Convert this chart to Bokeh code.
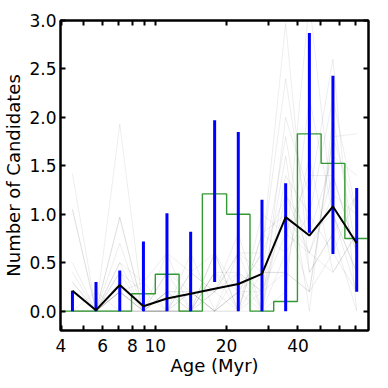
from bokeh.plotting import figure
from bokeh.models import Range1d, FixedTicker, LinearAxis, LogAxis
from bokeh.embed import file_html
from bokeh.resources import INLINE

# Bin centres and edges (Myr), log-spaced
centers = [4.47, 5.62, 7.08, 8.91, 11.2, 14.1, 17.8, 22.4, 28.2, 35.5, 44.7, 56.2, 70.8]
edges = [3.98, 5.01, 6.31, 7.94, 10.0, 12.6, 15.8, 20.0, 25.1, 31.6, 39.8, 50.1, 63.1, 79.4]

# Observed histogram (green step)
hist_vals = [0.0, 0.0, 0.0, 0.18, 0.38, 0.0, 1.21, 1.0, 0.0, 0.10, 1.83, 1.525, 0.75]

# Mean of realizations (black)
mean_vals = [0.21, 0.01, 0.27, 0.05, 0.13, 0.18, 0.23, 0.28, 0.385, 0.97, 0.78, 1.08, 0.70]

# Error bar ranges (blue)
err_lo = [0.0, 0.0, 0.0, 0.0, 0.0, 0.0, 0.30, 0.0, 0.0, 0.0, 0.81, 0.59, 0.20]
err_hi = [0.21, 0.30, 0.42, 0.72, 1.01, 0.82, 1.97, 1.85, 1.15, 1.32, 2.87, 2.43, 1.27]

# Individual realizations (faint grey)
realizations = [
    [1.42, 0, 0.2, 0, 0, 0.2, 0, 0.4, 0.2, 1.0, 0.6, 1.4, 0.6],
    [1.05, 0, 0.97, 0, 0.2, 0, 0.4, 0.2, 0.6, 2.97, 0.4, 0.8, 1.2],
    [0.2, 0, 1.93, 0, 0, 0.4, 0.2, 0, 0.8, 0.6, 3.2, 1.0, 0.4],
    [0, 0, 0.5, 0.3, 0.6, 0, 0.6, 0.2, 0, 2.0, 1.2, 2.6, 0],
    [0.5, 0, 0.2, 0, 0, 0.2, 0, 0.6, 0.4, 0.4, 0.2, 1.8, 1.83],
    [0, 0.2, 0, 0, 0.4, 0, 0.2, 0.8, 0, 1.4, 1.0, 0.6, 0.2],
    [0.3, 0, 0.7, 0, 0, 0.6, 0, 0, 1.0, 0.8, 0.6, 1.2, 1.0],
    [0, 0, 0.4, 0.2, 0, 0, 0.4, 0.4, 0.2, 1.6, 0, 2.0, 0.6],
    [1.05, 0, 0.97, 0, 0.2, 0.2, 0, 0, 0.2, 0.4, 1.6, 0.4, 0.8],
    [0.2, 0, 0, 0, 0, 0, 0.2, 0.6, 0.6, 1.2, 0.8, 1.6, 1.4],
    [0, 0, 0.3, 0, 0.6, 0.4, 0.6, 0, 0, 0.2, 2.2, 1.0, 0.4],
    [0.4, 0, 0.2, 0.3, 0, 0, 0, 0.2, 0.4, 1.8, 0.4, 0.8, 0],
    [0, 0, 0, 0, 0.2, 0.2, 0.2, 0.4, 0, 0.6, 1.0, 2.2, 1.0],
    [0.2, 0, 0.5, 0, 0, 0, 0.4, 0, 0.8, 1.0, 0.2, 0.6, 1.2],
    [0, 0, 0.2, 0, 0.4, 0.2, 0, 0.2, 0.2, 0.8, 1.4, 1.4, 0.6],
    [0.3, 0, 0, 0, 0, 0.4, 0.2, 0.6, 0, 1.2, 0.6, 0.4, 0.8],
    [0, 0, 0.4, 0, 0, 0, 0, 0.2, 0.6, 2.4, 0.8, 1.0, 0.2],
    [0.2, 0, 0.2, 0, 0.2, 0, 0.6, 0, 0.4, 0.4, 0.2, 1.8, 1.0],
]

x_major = [4, 6, 8, 10, 20, 40]
x_minor = [5, 7, 9, 30, 50, 60, 70]
x_all = sorted(x_major + x_minor)
y_ticks = [0.0, 0.5, 1.0, 1.5, 2.0, 2.5, 3.0]

FONT = "DejaVu Sans"

p = figure(x_axis_type="log", output_backend="svg", toolbar_location=None,
           frame_width=308, frame_height=310,
           x_range=Range1d(edges[0], edges[-1]), y_range=Range1d(-0.2, 3.0),
           min_border_left=50, min_border_top=20, min_border_right=11, min_border_bottom=42)
p.background_fill_color = "white"
p.border_fill_color = "white"
p.grid.visible = False
p.outline_line_color = "black"
p.outline_line_width = 2

for r in realizations:
    p.line(centers, r, line_color="black", line_alpha=0.07, line_width=1)

p.step(edges, hist_vals + [hist_vals[-1]], mode="after", line_color="#339933", line_width=1.4)
p.segment(x0=centers, y0=err_lo, x1=centers, y1=err_hi, line_color="blue", line_width=3)
p.line(centers, mean_vals, line_color="black", line_width=2)

def style(ax):
    ax.axis_line_color = "black"
    ax.axis_line_width = 2
    ax.major_tick_in = 5
    ax.major_tick_out = 0
    ax.major_tick_line_width = 2
    ax.minor_tick_in = 5
    ax.minor_tick_out = 0
    ax.minor_tick_line_width = 2
    ax.major_label_text_font = FONT
    ax.major_label_text_font_size = "17px"
    ax.major_label_text_color = "black"
    ax.axis_label_text_font = FONT
    ax.axis_label_text_font_size = "18px"
    ax.axis_label_text_font_style = "normal"
    ax.axis_label_text_color = "black"

xa = p.xaxis[0]
style(xa)
xa.ticker = FixedTicker(ticks=x_major, minor_ticks=x_minor)
xa.major_label_overrides = {v: str(v) for v in x_major}
xa.axis_label = "Age (Myr)"
xa.major_label_standoff = 8
xa.axis_label_standoff = 0

ya = p.yaxis[0]
style(ya)
ya.ticker = FixedTicker(ticks=y_ticks, minor_ticks=[])
ya.major_label_overrides = {v: f"{v:.1f}" for v in y_ticks}
ya.axis_label = "Number of Candidates"
ya.major_label_standoff = 4
ya.axis_label_standoff = 2

# Mirrored ticks without labels (use minor ticks only)
top = LogAxis(ticker=FixedTicker(ticks=[], minor_ticks=x_all))
style(top)
p.add_layout(top, "above")

right = LinearAxis(ticker=FixedTicker(ticks=[], minor_ticks=y_ticks))
style(right)
p.add_layout(right, "right")

open("out.html", "w").write(file_html(p, INLINE))
